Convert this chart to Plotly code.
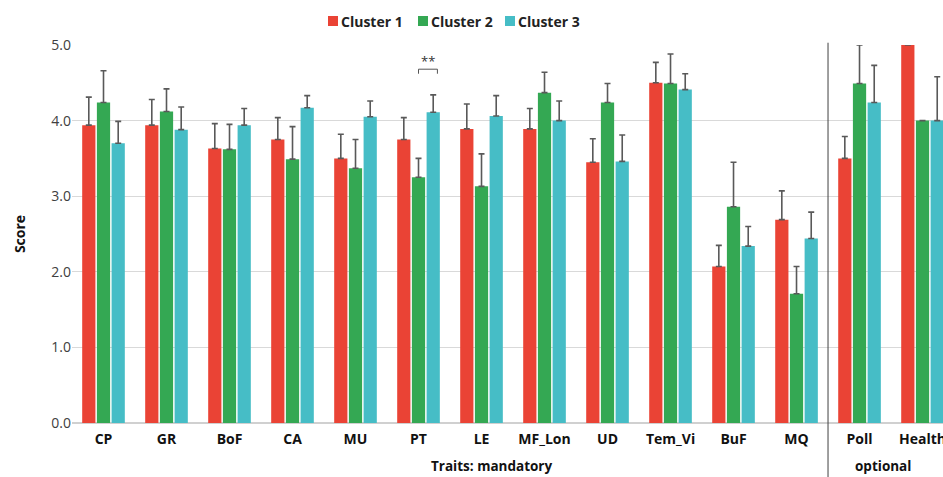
import plotly.graph_objects as go

# Trait categories (mandatory traits followed by optional ones)
categories = ["CP", "GR", "BoF", "CA", "MU", "PT", "LE", "MF_Lon", "UD",
              "Tem_Vi", "BuF", "MQ", "Poll", "Health"]

# Mean scores per cluster
cluster1 = [3.94, 3.94, 3.63, 3.75, 3.50, 3.75, 3.89, 3.89, 3.45, 4.50, 2.07, 2.69, 3.50, 5.00]
cluster2 = [4.24, 4.12, 3.62, 3.49, 3.37, 3.25, 3.13, 4.37, 4.24, 4.49, 2.86, 1.71, 4.49, 4.00]
cluster3 = [3.70, 3.88, 3.94, 4.17, 4.05, 4.11, 4.06, 4.00, 3.46, 4.41, 2.34, 2.44, 4.24, 4.00]

# Upper error (standard deviation) per cluster
err1 = [0.37, 0.34, 0.33, 0.29, 0.32, 0.29, 0.33, 0.27, 0.31, 0.27, 0.28, 0.38, 0.29, 0.00]
err2 = [0.42, 0.30, 0.33, 0.43, 0.38, 0.25, 0.43, 0.27, 0.25, 0.39, 0.59, 0.36, 0.51, 0.00]
err3 = [0.29, 0.30, 0.22, 0.16, 0.21, 0.23, 0.27, 0.26, 0.35, 0.21, 0.26, 0.35, 0.49, 0.58]

series_names = ["Cluster 1", "Cluster 2", "Cluster 3"]
colors = ["#EA4335", "#34A853", "#46BDC6"]

y_ticks = [0, 1, 2, 3, 4, 5]
y_tick_labels = ["0.0", "1.0", "2.0", "3.0", "4.0", "5.0"]

n_mandatory = 12
sig_category = "PT"

FONT = "Open Sans, DejaVu Sans, sans-serif"

W, H = 943, 477
M_L, M_R, M_T, M_B = 72, 0, 45, 54
PLOT_W = W - M_L - M_R
PLOT_H = H - M_T - M_B


def px_to_paper(px, py):
    """Convert page pixel position to paper coordinates of the plot area."""
    return (px - M_L) / PLOT_W, (H - M_B - py) / PLOT_H


fig = go.Figure()
xs = list(range(len(categories)))
for name, vals, errs, col in zip(series_names, [cluster1, cluster2, cluster3],
                                 [err1, err2, err3], colors):
    fig.add_trace(go.Bar(
        name=name, x=xs, y=vals, showlegend=False,
        marker=dict(color=col, line=dict(width=0)),
        error_y=dict(type="data", array=errs, symmetric=False,
                     arrayminus=[0] * len(errs),
                     color="#595959", thickness=1.6, width=3),
    ))

# Legend row across the top: coloured square followed by bold label
legend_left = [328, 418, 505]
legend_cy = 21
sq = 10
for left, name, col in zip(legend_left, series_names, colors):
    x0, y0 = px_to_paper(left, legend_cy + sq / 2)
    x1, y1 = px_to_paper(left + sq, legend_cy - sq / 2)
    fig.add_shape(type="rect", xref="paper", yref="paper",
                  x0=x0, x1=x1, y0=y0, y1=y1,
                  fillcolor=col, line=dict(width=0))
    tx, ty = px_to_paper(left + sq + 1, legend_cy)
    fig.add_annotation(x=tx, y=ty, xref="paper", yref="paper",
                       xanchor="left", yanchor="middle", showarrow=False,
                       text=f"<b>{name}</b>",
                       font=dict(family=FONT, size=14, color="#222"))

# Divider between mandatory and optional traits
split = n_mandatory - 0.5
fig.add_shape(type="line", xref="x", yref="paper", x0=split, x1=split,
              y0=-0.16, y1=1.006, line=dict(color="#404040", width=1))

# Group labels under the axis
fig.add_annotation(x=6.16, y=-0.115, xref="x", yref="paper", yanchor="middle",
                   text="<b>Traits: mandatory</b>", showarrow=False,
                   font=dict(family=FONT, size=13.5, color="#111"))
fig.add_annotation(x=12.37, y=-0.115, xref="x", yref="paper", yanchor="middle",
                   text="<b>optional</b>", showarrow=False,
                   font=dict(family=FONT, size=13.5, color="#111"))

# Significance bracket between Cluster 2 and Cluster 3 for PT
i = categories.index(sig_category)
bx0, bx1 = i, i + 0.3
fig.add_shape(type="path", xref="x", yref="y",
              path=f"M {bx0},4.62 L {bx0},4.68 L {bx1},4.68 L {bx1},4.62",
              line=dict(color="#555", width=1))
fig.add_annotation(x=(bx0 + bx1) / 2, y=4.79, xref="x", yref="y",
                   text="**", showarrow=False,
                   font=dict(family=FONT, size=13, color="#333"))

fig.update_layout(
    width=W, height=H,
    margin=dict(l=M_L, r=M_R, t=M_T, b=M_B, autoexpand=False),
    paper_bgcolor="white", plot_bgcolor="white",
    barmode="group", bargap=0.3, bargroupgap=0.1,
    font=dict(family=FONT, color="#333"),
    showlegend=False,
    xaxis=dict(range=[-0.5, 13.325], tickmode="array", tickvals=xs,
               ticktext=[f"<b>{c}</b>" for c in categories],
               tickfont=dict(family=FONT, size=14, color="#111"),
               ticklabeloverflow="allow", ticklabelstandoff=6,
               showgrid=False, showline=False, ticks=""),
    yaxis=dict(range=[0, 5], tickmode="array", tickvals=y_ticks,
               ticktext=y_tick_labels,
               tickfont=dict(family=FONT, size=14, color="#404040"),
               gridcolor="#d9d9d9", gridwidth=1,
               zeroline=True, zerolinecolor="#d0d0d0", zerolinewidth=2,
               showline=False, ticks="", ticklen=0,
               title=dict(text="<b>Score</b>", standoff=22,
                          font=dict(family=FONT, size=14, color="#111"))),
)

fig.write_html("out.html")
